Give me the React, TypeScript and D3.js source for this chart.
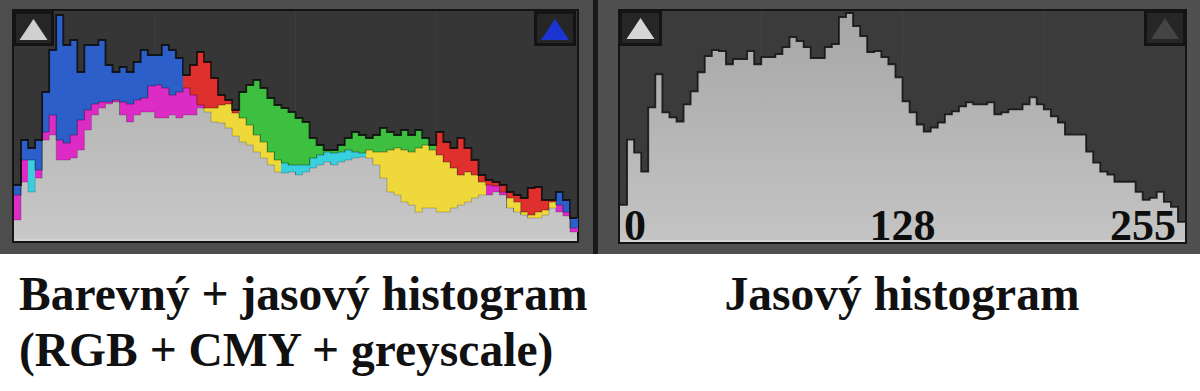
import React from 'react';
import * as d3 from 'd3';

// ---------- data (histogram counts per bin) ----------
const COUNT_MAX = 230;

const RED = [46, 81, 49, 71, 109, 126, 101, 98, 106, 121, 131, 137, 139, 139, 141, 139, 137, 141, 143, 155,
  156, 153, 146, 149, 166, 176, 189, 179, 163, 146, 141, 131, 123, 116, 106, 99, 89, 81, 68, 69,
  66, 69, 73, 76, 79, 76, 79, 81, 83, 84, 91, 89, 89, 91, 93, 91, 89, 93, 96, 91,
  109, 99, 93, 103, 93, 81, 66, 61, 59, 56, 49, 46, 43, 53, 54, 41, 41, 36, 29, 13];

const GREEN = [21, 59, 81, 63, 101, 106, 81, 81, 83, 91, 111, 126, 133, 137, 139, 126, 119, 126, 129, 129,
  123, 123, 126, 123, 126, 126, 133, 133, 133, 136, 137, 128, 149, 156, 161, 153, 143, 136, 133, 129,
  123, 119, 103, 96, 91, 91, 96, 103, 109, 106, 103, 106, 113, 109, 106, 111, 106, 111, 103, 96,
  86, 79, 73, 66, 69, 66, 59, 46, 49, 46, 43, 39, 29, 26, 29, 31, 39, 29, 25, 9];

const BLUE = [56, 101, 93, 101, 149, 191, 226, 196, 201, 169, 196, 196, 201, 176, 169, 174, 169, 179, 191, 186,
  186, 196, 191, 183, 153, 146, 136, 129, 119, 118, 113, 105, 99, 96, 89, 83, 76, 69, 78, 76,
  76, 76, 83, 86, 89, 88, 89, 91, 89, 88, 83, 76, 63, 49, 46, 39, 36, 29, 33, 33,
  29, 29, 33, 36, 39, 43, 46, 56, 55, 49, 33, 29, 26, 23, 23, 26, 33, 49, 41, 23];

const LUMA = [37, 102, 89, 70, 134, 167, 129, 124, 120, 137, 150, 169, 185, 191, 190, 177, 182, 182, 190, 177,
  184, 184, 187, 194, 204, 200, 194, 183, 183, 194, 197, 224, 228, 215, 205, 189, 190, 184, 177, 164,
  140, 129, 117, 110, 114, 119, 127, 130, 135, 139, 137, 137, 139, 127, 129, 132, 132, 137, 144, 137,
  132, 125, 119, 107, 107, 107, 90, 79, 70, 67, 60, 60, 60, 50, 42, 44, 50, 40, 35, 20];

const AXIS_LABELS = ['0', '128', '255'];
const CAPTION_LEFT = ['Barevný + jasový histogram', '(RGB + CMY + greyscale)'];
const CAPTION_RIGHT = 'Jasový histogram';

const CH_COLORS: Record<string, string> = { R: '#e0302e', G: '#3dbf3f', B: '#2d5fcb' };
const PAIR_COLORS: Record<string, string> = { BG: '#38cfdf', BR: '#dd2cc6', GR: '#eed83a' };

const SERIF = '"Liberation Serif", "Times New Roman", serif';

function IconBox({ x, y, w, h, color }: { x: number; y: number; w: number; h: number; color: string }) {
  const cx = x + w / 2;
  return (
    <g>
      <rect x={x} y={y} width={w} height={h} fill="#141414" />
      <rect x={x + 3} y={y + 3} width={w - 6} height={h - 6} fill="#262626" />
      <path d={`M${cx},${y + 8} L${cx + 14},${y + 29} L${cx - 14},${y + 29} Z`} fill={color} />
    </g>
  );
}

export default function App() {
  const n = RED.length;
  const xL = d3.scaleLinear().domain([0, n]).range([14, 577]);
  const yL = d3.scaleLinear().domain([0, COUNT_MAX]).range([241, 11]);
  const m = LUMA.length;
  const xR = d3.scaleLinear().domain([0, m]).range([620, 1185]);
  const yR = d3.scaleLinear().domain([0, COUNT_MAX]).range([242, 11]);

  const bins = d3.range(n).map((i) => {
    const ch = [
      { k: 'R', v: RED[i] },
      { k: 'G', v: GREEN[i] },
      { k: 'B', v: BLUE[i] },
    ].sort((a, b) => a.v - b.v);
    const pair = [ch[1].k, ch[2].k].sort().join('');
    return {
      i,
      min: ch[0].v,
      mid: ch[1].v,
      max: ch[2].v,
      midColor: PAIR_COLORS[pair],
      maxColor: CH_COLORS[ch[2].k],
    };
  });

  const stepLine = (vals: number[], x: d3.ScaleLinear<number, number>, y: d3.ScaleLinear<number, number>) =>
    d3
      .line<number>()
      .x((_, i) => x(i))
      .y((v) => y(v))
      .curve(d3.curveStepAfter)([...vals, vals[vals.length - 1]]) || '';

  const stepArea = (vals: number[], x: d3.ScaleLinear<number, number>, y: d3.ScaleLinear<number, number>) =>
    d3
      .area<number>()
      .x((_, i) => x(i))
      .y0(y(0))
      .y1((v) => y(v))
      .curve(d3.curveStepAfter)([...vals, vals[vals.length - 1]]) || '';

  const mins = bins.map((b) => b.min);
  const mids = bins.map((b) => b.mid);
  const maxs = bins.map((b) => b.max);

  const quartersL = [n / 4, n / 2, (3 * n) / 4];
  const quartersR = [m / 4, m / 2, (3 * m) / 4];

  return (
    <svg
      width={1200}
      height={391}
      viewBox="0 0 1200 391"
      style={{ position: 'absolute', left: 0, top: 0, background: '#ffffff' }}
    >
      <defs>
        <linearGradient id="greyL" gradientUnits="userSpaceOnUse" x1="0" y1="11" x2="0" y2="241">
          <stop offset="0" stopColor="#ababab" />
          <stop offset="1" stopColor="#c8c8c8" />
        </linearGradient>
        <linearGradient id="greyR" gradientUnits="userSpaceOnUse" x1="0" y1="11" x2="0" y2="242">
          <stop offset="0" stopColor="#a6a6a6" />
          <stop offset="1" stopColor="#c4c4c4" />
        </linearGradient>
      </defs>

      {/* panel frames */}
      <rect x={0} y={0} width={593} height={254} fill="#4d4d4d" />
      <rect x={593} y={0} width={5} height={254} fill="#1a1a1a" />
      <rect x={598} y={0} width={602} height={254} fill="#505050" />

      {/* ---------- left: colour histogram ---------- */}
      <rect x={12} y={9} width={567} height={234} fill="#141414" />
      <rect x={14} y={11} width={563} height={230} fill="#363636" />
      {quartersL.map((q) => (
        <line key={q} x1={xL(q)} x2={xL(q)} y1={11} y2={241} stroke="#3e3e3e" strokeWidth={1} />
      ))}
      <g shapeRendering="crispEdges">
        {bins.map((b) => (
          <g key={b.i}>
            <rect
              x={xL(b.i)}
              y={yL(b.max)}
              width={xL(b.i + 1) - xL(b.i) + 0.6}
              height={yL(b.mid) - yL(b.max)}
              fill={b.maxColor}
            />
            <rect
              x={xL(b.i)}
              y={yL(b.mid)}
              width={xL(b.i + 1) - xL(b.i) + 0.6}
              height={yL(b.min) - yL(b.mid)}
              fill={b.midColor}
            />
          </g>
        ))}
      </g>
      <path d={stepArea(mins, xL, yL)} fill="url(#greyL)" />
      <path d={stepLine(mids, xL, yL)} fill="none" stroke="rgba(0,0,0,0.35)" strokeWidth={1.2} />
      <path d={stepLine(mins, xL, yL)} fill="none" stroke="rgba(0,0,0,0.2)" strokeWidth={1} />
      <path d={stepLine(maxs, xL, yL)} fill="none" stroke="rgba(10,10,10,0.85)" strokeWidth={1.8} />
      <rect x={14} y={239} width={563} height={2} fill="#d2d2d2" />
      <IconBox x={13} y={11} w={41} h={35} color="#d0d0d0" />
      <IconBox x={534} y={11} w={42} h={35} color="#1c34d2" />

      {/* ---------- right: luminance histogram ---------- */}
      <rect x={618} y={9} width={569} height={235} fill="#141414" />
      <rect x={620} y={11} width={565} height={231} fill="#3b3b3b" />
      {quartersR.map((q) => (
        <line key={q} x1={xR(q)} x2={xR(q)} y1={11} y2={242} stroke="#444" strokeWidth={1} />
      ))}
      <path d={stepArea(LUMA, xR, yR)} fill="url(#greyR)" />
      <path d={stepLine(LUMA, xR, yR)} fill="none" stroke="rgba(15,15,15,0.85)" strokeWidth={1.8} />
      <rect x={620} y={240} width={565} height={2} fill="#d4d4d4" />
      <IconBox x={619} y={10} w={43} h={36} color="#d6d6d6" />
      <IconBox x={1144} y={10} w={42} h={36} color="#444444" />

      <g fontFamily={SERIF} fontWeight="bold" fontSize={44} fill="#0e0e0e">
        <text x={624} y={240} textAnchor="start">{AXIS_LABELS[0]}</text>
        <text x={xR(m / 2)} y={240} textAnchor="middle">{AXIS_LABELS[1]}</text>
        <text x={1176} y={240} textAnchor="end">{AXIS_LABELS[2]}</text>
      </g>

      {/* ---------- captions ---------- */}
      <g fontFamily={SERIF} fontWeight="bold" fontSize={47.5} fill="#111">
        <text x={19} y={310}>{CAPTION_LEFT[0]}</text>
        <text x={19} y={366}>{CAPTION_LEFT[1]}</text>
        <text x={902} y={310} textAnchor="middle">{CAPTION_RIGHT}</text>
      </g>
    </svg>
  );
}
